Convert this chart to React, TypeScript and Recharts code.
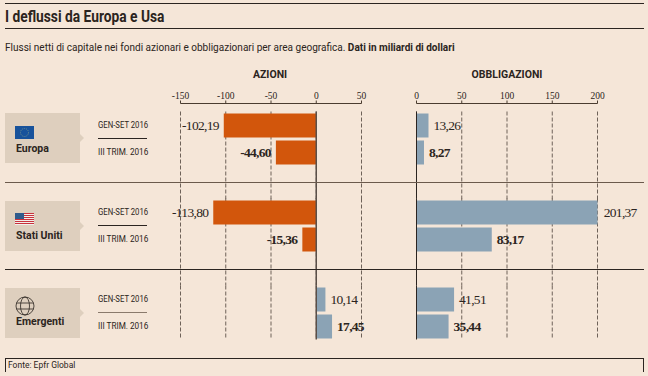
import React from 'react';
import { BarChart, Bar, XAxis, YAxis, CartesianGrid, Cell, LabelList, ReferenceLine } from 'recharts';

const regions = ['Europa', 'Stati Uniti', 'Emergenti'];
const periods = ['GEN-SET 2016', 'III TRIM. 2016'];
const azioniValues = [[-102.19, -44.6], [-113.8, -15.36], [10.14, 17.45]];
const obbligazioniValues = [[13.26, 8.27], [201.37, 83.17], [41.51, 35.44]];
const azioniTicks = [-150, -100, -50, 0, 50];
const obbligazioniTicks = [0, 50, 100, 150, 200];

const BG = '#f5e6d8';
const INK = '#2b2420';
const ORANGE = '#d2560c';
const BLUE = '#8ba3b5';
const BOX = '#decfbe';
const SANS = '"Roboto", "Liberation Sans", sans-serif';
const SERIF = '"Liberation Serif", serif';

// vertical bands of the three groups: chart top, band height 54, padding to next group
const groupLayout = [
  { top: 111, pad: 33.5 },
  { top: 198, pad: 33 },
  { top: 285, pad: 0 },
];
const PLOT_W = 181;
const MARGIN = 60.5;
const AZIONI_LEFT = 120;
const OBBLIG_LEFT = 356;

const fmt = (v: number) => v.toFixed(2).replace('.', ',');

const ValueLabel = (props: any) => {
  const { x, y, width, height, value, index } = props;
  const neg = value < 0;
  const lx = neg ? x + width - 5 : x + width + 5;
  return (
    <text
      x={lx}
      y={y + height / 2}
      dy={4}
      textAnchor={neg ? 'end' : 'start'}
      fontFamily={SERIF}
      fontSize={13.5}
      fontWeight={index === 1 ? 700 : 400}
      fill={INK}
      letterSpacing={-0.7}
    >
      {fmt(value)}
    </text>
  );
};

const GroupChart = ({ values, ticks, left, g, zero }: { values: number[]; ticks: number[]; left: number; g: number; zero: number }) => {
  const data = periods.map((p, i) => ({ period: p, value: values[i] }));
  const { top, pad } = groupLayout[g];
  return (
    <div style={{ position: 'absolute', left, top }}>
      <BarChart
        width={PLOT_W + MARGIN * 2}
        height={54.5 + pad}
        data={data}
        layout="vertical"
        margin={{ top: 0.5, right: MARGIN, bottom: 0, left: MARGIN }}
        barSize={24}
        barCategoryGap={0}
      >
        <CartesianGrid horizontal={false} verticalValues={ticks} stroke="#6e6259" strokeDasharray="4 2" />
        <XAxis type="number" domain={[ticks[0], ticks[ticks.length - 1]]} ticks={ticks} allowDataOverflow hide />
        <YAxis type="category" dataKey="period" hide padding={{ top: 0, bottom: pad }} />
        <Bar dataKey="value" isAnimationActive={false}>
          {data.map((d) => (
            <Cell key={d.period} fill={d.value < 0 ? ORANGE : BLUE} />
          ))}
          <LabelList dataKey="value" content={ValueLabel} />
        </Bar>
        <ReferenceLine x={0} stroke={zero > 1 ? '#5a4f48' : INK} strokeWidth={zero} />
      </BarChart>
    </div>
  );
};

const AxisChart = ({ ticks, left }: { ticks: number[]; left: number }) => (
  <div style={{ position: 'absolute', left, top: 78 }}>
    <BarChart
      width={PLOT_W + MARGIN * 2}
      height={30}
      data={periods.map((p) => ({ period: p, value: 0 }))}
      layout="vertical"
      margin={{ top: 0.5, right: MARGIN, bottom: 0, left: MARGIN }}
    >
      <XAxis
        type="number"
        orientation="top"
        height={25}
        domain={[ticks[0], ticks[ticks.length - 1]]}
        ticks={ticks}
        interval={0}
        tickSize={3}
        tickMargin={2}
        stroke="#4a3c30"
        tick={{ fontFamily: SERIF, fontSize: 9.5, fill: INK }}
      />
      <YAxis type="category" dataKey="period" hide />
      <Bar dataKey="value" fill="none" isAnimationActive={false} />
    </BarChart>
  </div>
);

const Rule = ({ x = 5, y, w = 639, h = 1, c = INK }: { x?: number; y: number; w?: number; h?: number; c?: string }) => (
  <div style={{ position: 'absolute', left: x, top: y, width: w, height: h, background: c }} />
);

const Txt = ({ x, y, size, weight = 400, children, w, align, spacing, squeeze }: any) => (
  <div
    style={{
      position: 'absolute',
      left: x,
      top: y,
      width: w,
      textAlign: align,
      fontFamily: SANS,
      fontSize: size,
      fontWeight: weight,
      color: INK,
      whiteSpace: 'nowrap',
      lineHeight: 1,
      letterSpacing: spacing,
      transform: squeeze ? `scaleX(${squeeze})` : undefined,
      transformOrigin: 'left center',
    }}
  >
    {children}
  </div>
);

const EuFlag = () => (
  <svg width={19} height={13} style={{ position: 'absolute', left: 15, top: 13 }}>
    <rect width={19} height={13} fill="#17529b" />
    <circle cx={9.5} cy={6.5} r={4} fill="none" stroke="#6f8f8f" strokeWidth={1} strokeDasharray="1 1" />
  </svg>
);

const UsFlag = () => (
  <svg width={19} height={12} style={{ position: 'absolute', left: 15, top: 12 }}>
    {[0, 1, 2, 3, 4, 5].map((i) => (
      <rect key={i} y={i * 2} width={19} height={1} fill="#c8323c" />
    ))}
    {[0, 1, 2, 3, 4, 5].map((i) => (
      <rect key={i} y={i * 2 + 1} width={19} height={1} fill="#f4eeea" />
    ))}
    <rect width={9} height={6} fill="#2f5b8c" />
  </svg>
);

const Globe = () => (
  <svg width={20} height={20} style={{ position: 'absolute', left: 15, top: 8 }} fill="none" stroke="#2b2420" strokeWidth={0.8}>
    <circle cx={10} cy={10} r={9} />
    <ellipse cx={10} cy={10} rx={4.5} ry={9} />
    <line x1={1.5} y1={7} x2={18.5} y2={7} />
    <line x1={1.5} y1={13} x2={18.5} y2={13} />
  </svg>
);

const boxTops = [113, 201, 288];
const boxLabelTops = [31, 30, 29];
const periodTops = [113, 200, 287];
const flags = [<EuFlag key="eu" />, <UsFlag key="us" />, <Globe key="gl" />];

const App: React.FC = () => {
  return (
    <div style={{ position: 'absolute', left: 0, top: 0, width: 648, height: 376, background: BG, overflow: 'hidden' }}>
      <Rule y={3} />
      <Txt x={5} y={8} size={17} weight={700} squeeze={0.81}>I deflussi da Europa e Usa</Txt>
      <Rule y={28} />
      <Txt x={5} y={43} size={10.5} squeeze={0.955}>
        Flussi netti di capitale nei fondi azionari e obbligazionari per area geografica. <b>Dati in miliardi di dollari</b>
      </Txt>
      <Txt x={170} w={200} align="center" y={70} size={10.5} weight={700}>AZIONI</Txt>
      <Txt x={407} w={200} align="center" y={70} size={10.5} weight={700}>OBBLIGAZIONI</Txt>

      {regions.map((r, i) => (
        <div key={r} style={{ position: 'absolute', left: 5, top: boxTops[i], width: 75, height: 50, background: BOX }}>
          <div style={{ position: 'absolute', left: 75, top: 21, width: 0, height: 0, borderTop: '4px solid transparent', borderBottom: '4px solid transparent', borderLeft: `4px solid ${BOX}` }} />
          <div style={{ position: 'absolute', left: -5, top: 0 }}>{flags[i]}</div>
          <Txt x={11} y={boxLabelTops[i]} size={10.5} weight={700}>{r}</Txt>
        </div>
      ))}

      {periodTops.map((t, i) => (
        <React.Fragment key={regions[i]}>
          <Txt x={98} y={t + 8} size={8.5} squeeze={0.91}>{periods[0]}</Txt>
          <Rule x={98} y={t + 25} w={49} c={i === 2 ? '#8a7a6c' : INK} />
          <Txt x={98} y={t + 35} size={8.5} squeeze={0.96}>{periods[1]}</Txt>
        </React.Fragment>
      ))}

      {groupLayout.map((_, g) => (
        <GroupChart key={g} g={g} values={azioniValues[g]} ticks={azioniTicks} left={AZIONI_LEFT} zero={1.5} />
      ))}
      {groupLayout.map((_, g) => (
        <GroupChart key={g} g={g} values={obbligazioniValues[g]} ticks={obbligazioniTicks} left={OBBLIG_LEFT} zero={1} />
      ))}
      <AxisChart ticks={azioniTicks} left={AZIONI_LEFT} />
      <AxisChart ticks={obbligazioniTicks} left={OBBLIG_LEFT} />

      <Rule y={182} c="#6b5a4c" />
      <Rule y={269} />
      <Rule y={358} />
      <Rule y={358} w={1} h={14} />
      <Rule x={643} y={358} w={1} h={14} />
      <Txt x={8} y={361} size={8.5}>Fonte: Epfr Global</Txt>
    </div>
  );
};

export default App;
